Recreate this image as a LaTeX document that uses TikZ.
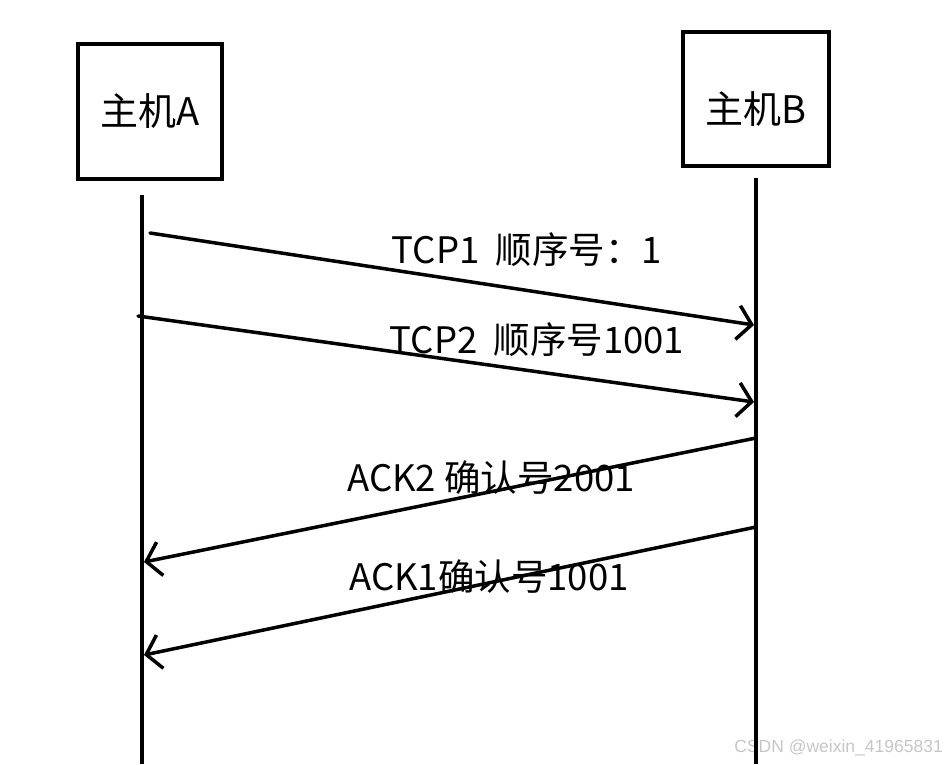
\documentclass[tikz,border=0pt]{standalone}
\usepackage{fontspec}
\setmainfont{Noto Sans CJK SC}
\newfontfamily\markfont{Liberation Sans}
\usetikzlibrary{arrows.meta}
\begin{document}
\begin{tikzpicture}[x=1pt,y=-1pt,
    host/.style={draw,line width=3.5pt,minimum width=144pt,minimum height=135pt,
      inner sep=0pt,font=\fontsize{38}{42}\selectfont},
    life/.style={line width=3.5pt},
    msg/.style={line width=3.5pt,line cap=round,
      -{Straight Barb[length=14pt,width=34pt,line width=3.5pt]}},
    lbl/.style={font=\fontsize{36.5}{40}\selectfont,inner sep=0pt}]
  \useasboundingbox (0,0) rectangle (948,764);
  % hosts
  \node[host] (hostA) at (150,111.5) {主机A};
  \node[host,minimum width=146pt,minimum height=134pt,text height=48pt,text depth=0pt]
    (hostB) at (756,99) {主机B};
  % watermark
  \node[anchor=east,text=gray!45,font=\markfont\fontsize{17.5}{20}\selectfont,inner sep=0pt]
    (mark) at (943,748) {CSDN @weixin\_41965831};
  % lifelines
  \coordinate (lifeA) at (142,195);
  \coordinate (endA) at (142,764);
  \coordinate (lifeB) at (756,178);
  \coordinate (endB) at (756,764);
  \draw[life] (lifeA) -- (endA);
  \draw[life] (lifeB) -- (endB);
  % labels
  \node[lbl] (tcp1) at (527,250) {TCP1\ \ 顺序号：1};
  \node[lbl] (tcp2) at (537,340) {TCP2\ \ 顺序号1001};
  \node[lbl] (ack2) at (491,478) {ACK2 确认号2001};
  \node[lbl] (ack1) at (489,577) {ACK1确认号1001};
  % messages
  \coordinate (t1s) at (150,233);  \coordinate (t1e) at (754,325);
  \coordinate (t2s) at (138,316);  \coordinate (t2e) at (754,402);
  \coordinate (a2s) at (756,438);  \coordinate (a2e) at (144,562);
  \coordinate (a1s) at (756,527);  \coordinate (a1e) at (144,655);
  \draw[msg] (t1s) -- (t1e);
  \draw[msg] (t2s) -- (t2e);
  \draw[msg] (a2s) -- (a2e);
  \draw[msg] (a1s) -- (a1e);
\end{tikzpicture}
\end{document}
